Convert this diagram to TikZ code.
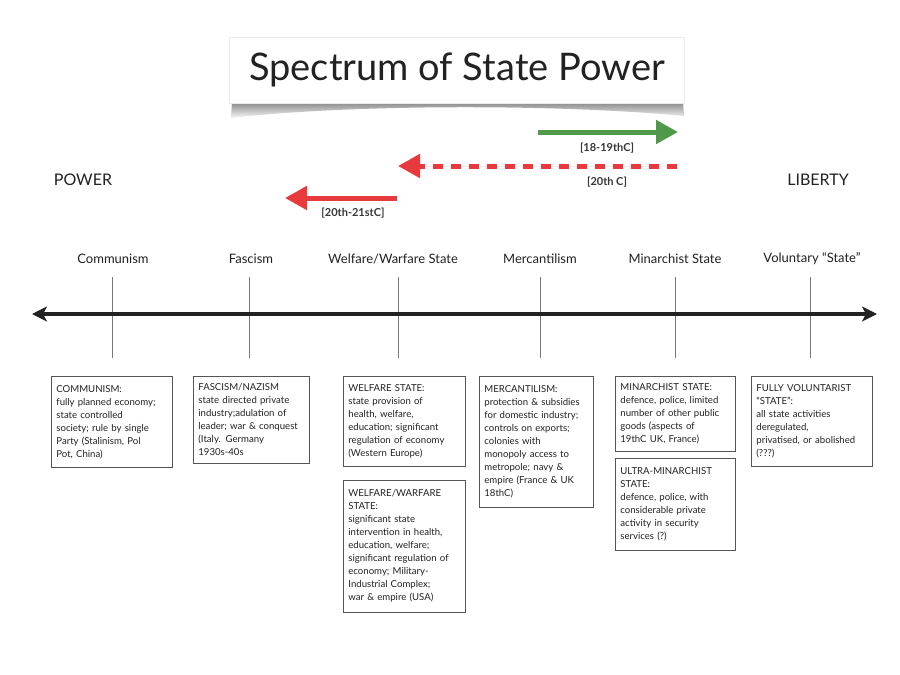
\documentclass[tikz,border=0pt]{standalone}
\usepackage{fontspec}
\setmainfont{Lato}
\usepackage{tikz}
\usetikzlibrary{arrows.meta,positioning}
\definecolor{ink}{HTML}{222222}
\definecolor{boxline}{HTML}{555555}
\definecolor{tickline}{HTML}{777777}
\definecolor{libgreen}{HTML}{4E9A4A}
\definecolor{powred}{HTML}{E83A3C}
\tikzset{
  titlebox/.style={fill=white, draw=black!8, minimum width=455pt, minimum height=66pt, inner sep=0pt, text=ink, font=\fontsize{38}{40}\selectfont},
  catlabel/.style={text=ink, inner sep=2pt, font=\fontsize{13}{15}\selectfont},
  endlabel/.style={text=ink, inner sep=2pt, font=\fontsize{16}{18}\selectfont},
  tag/.style={text=ink!90, inner sep=1pt, font=\bfseries\fontsize{11}{13}\selectfont},
  descbox/.style={draw=boxline, line width=0.8pt, anchor=north west, align=left, inner xsep=5pt, inner ysep=4pt, text=ink, font=\fontsize{9.6}{13}\selectfont},
  axis/.style={{Stealth[length=15pt,width=15pt,inset=4pt]}-{Stealth[length=15pt,width=15pt,inset=4pt]}, line width=3.5pt, draw=ink},
  tick/.style={line width=0.6pt, draw=tickline},
  trend/.style={-{Triangle[length=22pt,width=23pt]}, line width=5pt}
}

\begin{document}
\begin{tikzpicture}[x=1pt, y=-1pt]
  \useasboundingbox[fill=white] (0,0) rectangle (900,675);

  % title with its curled shadow
  \shade[top color=black!50, bottom color=black!3]
    (232,101) -- (683,101) -- (684,116) .. controls (560,104) and (350,104) .. (231,118) -- cycle;
  \node[titlebox] (title) at (457,70) {Spectrum of State Power};

  % trends
  \coordinate (g0) at (538,132);
  \coordinate (g1) at (678,132);
  \draw[trend, draw=libgreen, fill=libgreen] (g0) -- (g1);
  \node[tag] (t1819) at (607,148) {[18-19thC]};

  \coordinate (d0) at (677,166);
  \coordinate (d1) at (398,166);
  \draw[trend, draw=powred, fill=powred, dash pattern=on 10pt off 8pt] (d0) -- (d1);
  \node[tag] (t20) at (607,182) {[20th C]};

  \coordinate (r0) at (397,198);
  \coordinate (r1) at (285,198);
  \draw[trend, draw=powred, fill=powred] (r0) -- (r1);
  \node[tag] (t2021) at (353,213) {[20th-21stC]};

  \node[endlabel] (power) at (83,180) {POWER};
  \node[endlabel] (liberty) at (818,180) {LIBERTY};

  % spectrum
  \node[catlabel] (lcomm) at (113,259) {Communism};
  \node[catlabel] (lfasc) at (251,259) {Fascism};
  \node[catlabel] (lwelf) at (393,259) {Welfare/Warfare State};
  \node[catlabel] (lmerc) at (540,259) {Mercantilism};
  \node[catlabel] (lmina) at (675,259) {Minarchist State};
  \node[catlabel] (lvolu) at (812,259) {Voluntary “State”};

  \foreach \x in {112,249,398,540,675,810}
    \draw[tick] (\x,277) -- (\x,358);

  \coordinate (axl) at (32,314);
  \coordinate (axr) at (877,314);
  \draw[axis] (axl) -- (axr);

  % descriptions
  \node[descbox, text width=111pt, minimum height=91pt] (comm) at (51,376)
    {COMMUNISM:\\ fully planned economy;\\ state controlled\\ society; rule by single\\ Party (Stalinism, Pol\\ Pot, China)};
  \node[descbox, text width=106pt, minimum height=87pt] (fasc) at (193,376)
    {FASCISM/NAZISM\\ state directed private\\ industry;adulation of\\ leader; war \& conquest\\ (Italy. Germany\\ 1930s-40s};
  \node[descbox, text width=112pt, minimum height=90pt] (welf) at (343,376)
    {WELFARE STATE:\\ state provision of\\ health, welfare,\\ education; significant\\ regulation of economy\\ (Western Europe)};
  \node[descbox, text width=112pt, minimum height=132pt, below=13pt of welf.south west, anchor=north west] (warf)
    {WELFARE/WARFARE\\ STATE:\\ significant state\\ intervention in health,\\ education, welfare;\\ significant regulation of\\ economy; Military-\\ Industrial Complex;\\ war \& empire (USA)};
  \node[descbox, text width=104pt, minimum height=131pt] (merc) at (479,376)
    {MERCANTILISM:\\ protection \& subsidies\\ for domestic industry;\\ controls on exports;\\ colonies with\\ monopoly access to\\ metropole; navy \&\\ empire (France \& UK\\ 18thC)};
  \node[descbox, text width=110pt, minimum height=75pt] (mina) at (615,376)
    {MINARCHIST STATE:\\ defence, police, limited\\ number of other public\\ goods (aspects of\\ 19thC UK, France)};
  \node[descbox, text width=110pt, minimum height=92pt, below=6pt of mina.south west, anchor=north west] (ultra)
    {ULTRA-MINARCHIST\\ STATE:\\ defence, police, with\\ considerable private\\ activity in security\\ services (?)};
  \node[descbox, text width=111pt, minimum height=90pt] (volu) at (751,376)
    {FULLY VOLUNTARIST\\ “STATE”:\\ all state activities\\ deregulated,\\ privatised, or abolished\\ (???)};
\end{tikzpicture}
\end{document}
